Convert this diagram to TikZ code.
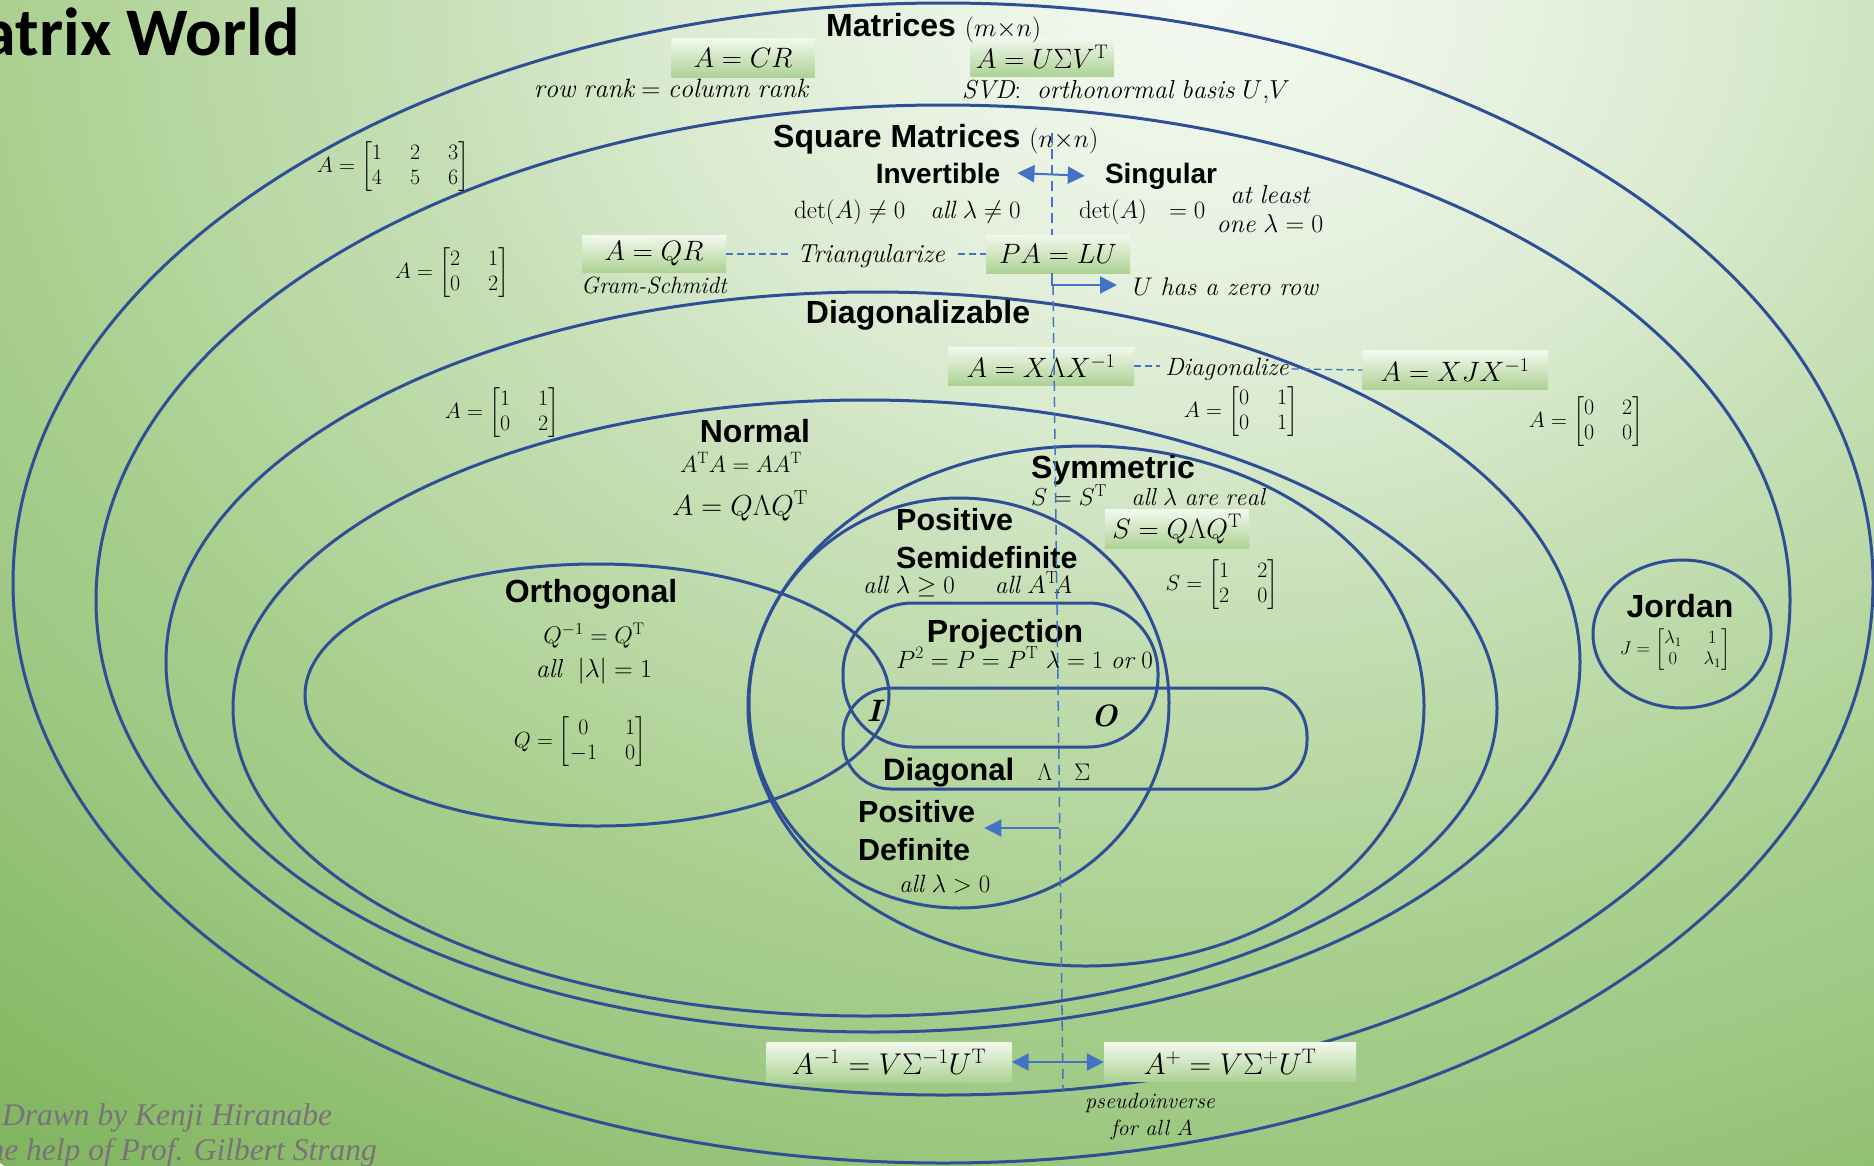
\RequirePackage{fix-cm}
\documentclass[tikz,border=0pt]{standalone}
\usepackage{amsmath}
\usepackage{fontspec}
\newfontfamily\hfont{Liberation Sans}
\newfontfamily\tfont{Carlito}
\newfontfamily\ffont{Liberation Serif}
\usetikzlibrary{arrows.meta}
\newcommand{\fsz}[1]{\fontsize{#1}{#1}\selectfont}
\newcommand{\mT}{^{\mathrm{T}}}
\newcommand{\mtx}[2]{{\setlength{\arraycolsep}{#1}$#2$}}
\definecolor{ellc}{HTML}{2E4F96}
\definecolor{arrb}{HTML}{4472C4}
\definecolor{boxtop}{HTML}{F2F8EE}
\definecolor{boxmid}{HTML}{D5E9C8}
\definecolor{boxbot}{HTML}{ADD294}
\definecolor{footc}{HTML}{7A717A}
\definecolor{bga}{HTML}{F4F9F1}
\definecolor{bgb}{HTML}{E8F2E1}
\definecolor{bgc}{HTML}{DAEBD0}
\definecolor{bgd}{HTML}{C8E0B8}
\definecolor{bge}{HTML}{B9D8A4}
\definecolor{bgf}{HTML}{A9CF8E}
\definecolor{bgg}{HTML}{9DC882}
\definecolor{bgi}{HTML}{8DBE6E}
\definecolor{bgh}{HTML}{80B45E}
\pgfdeclareradialshading{bgshade}{\pgfpoint{0bp}{0bp}}{color(0bp)=(bga); color(4bp)=(bgb); color(7bp)=(bgc); color(10bp)=(bgd); color(13bp)=(bge); color(16bp)=(bgf); color(19bp)=(bgg); color(22bp)=(bgi); color(25bp)=(bgh); color(50bp)=(bgh)}
\begin{document}
\begin{tikzpicture}[x=1pt,y=-1pt,
  ellp/.style={draw=ellc,line width=3pt},
  hl/.style={inner sep=0pt,font=\hfont\bfseries\fsz{31}},
  mt/.style={inner sep=0pt,font=\fsz{25}},
  sm/.style={inner sep=0pt,font=\fsz{24}},
  mx/.style={inner sep=0pt,font=\fontsize{22}{25}\selectfont},
  fbox/.style={top color=boxtop,middle color=boxmid,bottom color=boxbot,inner sep=0pt,font=\fsz{28}},
  dsh/.style={draw=arrb,line width=1.3pt,dash pattern=on 7pt off 4pt},
  vdsh/.style={draw=arrb,line width=1.5pt,dash pattern=on 10pt off 6pt},
  arr/.style={draw=arrb,line width=2pt,-{Triangle[length=17pt,width=17pt]}},
  darr/.style={draw=arrb,line width=2pt,{Triangle[length=17pt,width=17pt]}-{Triangle[length=17pt,width=17pt]}}
]
\useasboundingbox (0,0) rectangle (1874,1165);
\clip (0,0) rectangle (1874,1165);
\shade[shading=bgshade] (1200,0) ellipse [x radius=1900pt, y radius=1500pt];

% ellipses
\draw[ellp] (943,583) ellipse [x radius=930pt, y radius=580pt];
\draw[ellp] (943,600) ellipse [x radius=847pt, y radius=495pt];
\draw[ellp] (873,662) ellipse [x radius=707pt, y radius=370pt];
\draw[ellp] (865,708) ellipse [x radius=632pt, y radius=308pt];
\draw[ellp] (597,695) ellipse [x radius=292pt, y radius=131pt];
\draw[ellp] (1086,706) ellipse [x radius=338pt, y radius=260pt];
\draw[ellp] (959,703) ellipse [x radius=210pt, y radius=205pt];
\draw[ellp] (1682,634) ellipse [x radius=89pt, y radius=74pt];
\draw[ellp, rounded corners=70pt] (843,603) rectangle (1158,747);
\draw[ellp, rounded corners=48pt] (843,688) rectangle (1307,789);

% title and footer
\node[anchor=base east,inner sep=0pt,font=\tfont\bfseries\fsz{68}] (title) at (300,55) {Matrix World};
\node[anchor=base west,inner sep=0pt,text=footc,font=\ffont\itshape\fsz{31.5}] (foot1) at (2,1125) {Drawn by Kenji Hiranabe};
\node[anchor=base east,inner sep=0pt,text=footc,font=\ffont\itshape\fsz{31.5}] (foot2) at (377,1160) {with the help of Prof. Gilbert Strang};

% boxes
\node[fbox,minimum width=143pt,minimum height=39pt] (cr) at (743,58) {$A=CR$};
\node[fbox,minimum width=143pt,minimum height=39pt] (usv) at (1042,57) {$A=U\Sigma V\mT$};
\node[fbox,minimum width=144pt,minimum height=37pt] (qr) at (654,254) {$A=QR$};
\node[fbox,minimum width=144pt,minimum height=38pt] (lu) at (1058,254) {$PA=LU$};
\node[fbox,minimum width=186pt,minimum height=38pt] (xl) at (1041,366) {$A=X\Lambda X^{-1}$};
\node[fbox,minimum width=185pt,minimum height=39pt] (xj) at (1455,370) {$A=XJX^{-1}$};
\node[fbox,minimum width=144pt,minimum height=39pt] (sql) at (1177,529) {$S=Q\Lambda Q\mT$};
\node[fbox,minimum width=245pt,minimum height=40pt,font=\fsz{30}] (ainv) at (889,1062) {$A^{-1}=V\Sigma^{-1}U\mT$};
\node[fbox,minimum width=252pt,minimum height=39pt,font=\fsz{30}] (aplus) at (1230,1062) {$A^{+}=V\Sigma^{+}U\mT$};

% Matrices
\node[hl,font=\hfont\bfseries\fsz{32},anchor=base west] (mat) at (826,36) {Matrices {\fsz{26}$(m{\times}n)$}};
\node[mt,font=\fsz{26.5},anchor=base] (rr) at (671,97) {$\mathit{row\ rank}=\mathit{column\ rank}$};
\node[mt,font=\fsz{26},anchor=base] (svd) at (1126,98) {$\mathit{SVD}$:\ \ $\mathit{orthonormal\ basis}\ U{,}V$};
\node[mx] (m1) at (393,167) {\mtx{14pt}{A=\begin{bmatrix}1&2&3\\4&5&6\end{bmatrix}}};

% Square
\node[hl,font=\hfont\bfseries\fsz{32},anchor=base west] (sqm) at (773,147) {Square Matrices {\fsz{26}$(n{\times}n)$}};
\node[hl,font=\hfont\bfseries\fsz{28},anchor=base] (inv) at (938,183) {Invertible};
\node[hl,font=\hfont\bfseries\fsz{28},anchor=base] (sing) at (1161,183) {Singular};
\node[mt,anchor=base west] (detn) at (794,218) {$\det(A)\neq 0\quad \mathit{all}\ \lambda\neq 0$};
\node[mt,anchor=base west] (detz) at (1079,218) {$\det(A)\ \ =0$};
\node[sm,font=\fsz{26},anchor=base] (atl) at (1270,203) {$\mathit{at\ least}$};
\node[sm,font=\fsz{26},anchor=base] (one) at (1270,232) {$\mathit{one}\ \lambda=0$};
\node[mx] (m2) at (452,273) {\mtx{14pt}{A=\begin{bmatrix}2&1\\0&2\end{bmatrix}}};
\node[sm,font=\fsz{23.5},anchor=base] (gs) at (654,293) {\itshape Gram-Schmidt};
\node[mt,font=\fsz{26},anchor=base] (tri) at (871,262) {\itshape Triangularize};
\node[mt,font=\fsz{25.5},anchor=base west] (uz) at (1133,295) {$U$ \itshape has a zero row};

% Diagonalizable
\node[hl,font=\hfont\bfseries\fsz{32},anchor=base] (dgz) at (918,323) {Diagonalizable};
\node[sm,font=\fsz{25},anchor=base] (dz) at (1227,375) {\itshape Diagonalize};
\node[mx] (m3) at (502,413) {\mtx{14pt}{A=\begin{bmatrix}1&1\\0&2\end{bmatrix}}};
\node[mx] (m4) at (1241,412) {\mtx{14pt}{A=\begin{bmatrix}0&1\\0&1\end{bmatrix}}};
\node[mx] (m5) at (1586,422) {\mtx{14pt}{A=\begin{bmatrix}0&2\\0&0\end{bmatrix}}};

% Normal
\node[hl,font=\hfont\bfseries\fsz{32},anchor=base] (nrm) at (755,442) {Normal};
\node[sm,font=\fsz{23.5},anchor=base] (ata) at (741,472) {$A\mT A=AA\mT$};
\node[inner sep=0pt,font=\fsz{29},anchor=base] (nq) at (740,515) {$A=Q\Lambda Q\mT$};

% Orthogonal
\node[hl,font=\hfont\bfseries\fsz{32},anchor=base] (orth) at (591,602) {Orthogonal};
\node[sm,anchor=base] (qinv) at (594,643) {$Q^{-1}=Q\mT$};
\node[sm,font=\fsz{26},anchor=base] (alll) at (594,677) {$\mathit{all}\ \ |\lambda|=1$};
\node[mx] (mq) at (580,742) {\mtx{14pt}{Q=\begin{bmatrix}0&1\\-1&0\end{bmatrix}}};

% Symmetric
\node[hl,font=\hfont\bfseries\fsz{32},anchor=base] (sym) at (1113,478) {Symmetric};
\node[sm,font=\fsz{24.5},anchor=base west] (sst) at (1031,505) {$S=S\mT\quad \mathit{all}\ \lambda\ \mathit{are\ real}$};
\node[mx] (ms) at (1222,585) {\mtx{14pt}{S=\begin{bmatrix}1&2\\2&0\end{bmatrix}}};

% PSD
\node[hl,font=\hfont\bfseries\fsz{30.5},anchor=base west] (psd1) at (896,530) {Positive};
\node[hl,font=\hfont\bfseries\fsz{30.5},anchor=base west] (psd2) at (896,568) {Semidefinite};
\node[sm,font=\fsz{25},anchor=base west] (psdc) at (863,593) {$\mathit{all}\ \lambda\geq 0\quad\ \ \mathit{all}\ A\mT\! A$};

% Projection
\node[hl,font=\hfont\bfseries\fsz{32},anchor=base] (proj) at (1005,642) {Projection};
\node[sm,font=\fsz{25},anchor=base west] (projc) at (896,668) {$P^2=P=P\mT\ \lambda=1\ \mathit{or}\ 0$};
\node[inner sep=0pt,font=\fsz{31}\bfseries\itshape,anchor=base] (eye) at (874,721) {I};
\node[inner sep=0pt,font=\fsz{31}\bfseries\itshape,anchor=base] (zer) at (1104,726) {O};

% Diagonal
\node[hl,anchor=base west] (dg) at (883,780) {Diagonal};
\node[inner sep=0pt,font=\fsz{24},anchor=base west] (dls) at (1037,780) {$\Lambda\ \ \ \Sigma$};

% PD
\node[hl,font=\hfont\bfseries\fsz{30.5},anchor=base west] (pd1) at (858,822) {Positive};
\node[hl,font=\hfont\bfseries\fsz{30.5},anchor=base west] (pd2) at (858,860) {Definite};
\node[sm,font=\fsz{25},anchor=base west] (pdc) at (899,892) {$\mathit{all}\ \lambda>0$};

% Jordan
\node[hl,font=\hfont\bfseries\fsz{32},anchor=base] (jor) at (1680,617) {Jordan};
\node[inner sep=0pt,font=\fontsize{18.5}{21}\selectfont] (mj) at (1675,650) {\mtx{11pt}{J=\begin{bmatrix}\lambda_1&1\\0&\lambda_1\end{bmatrix}}};

% pseudoinverse
\node[inner sep=0pt,font=\fsz{22},anchor=base] (psi) at (1150,1108) {\itshape pseudoinverse};
\node[inner sep=0pt,font=\fsz{22},anchor=base] (fa) at (1152,1135) {\itshape for all $A$};

% connectors
\draw[dsh] (qr.east) -- ([xshift=-9pt]tri.west |- qr.east);
\draw[dsh] ([xshift=13pt]tri.east |- lu.west) -- (lu.west);
\draw[dsh] (xl.east) -- ([xshift=-5pt]dz.west |- xl.east);
\draw[dsh] ([xshift=3pt]dz.east) -- (xj.west);

\coordinate (v0) at (1052,133);
\coordinate (vj) at (1053,285);
\coordinate (uzt) at (1117,285);
\coordinate (v9) at (1063,1090);
\coordinate (pdj) at (1059,828);
\draw[vdsh] (v0) -- (v0 |- lu.north);
\draw[vdsh] (vj) -- (v9);
\draw[arr] (v0 |- lu.south) |- (uzt);
\draw[darr] ([xshift=17pt]inv.east) -- ([xshift=-20pt]sing.west);
\draw[arr] (pdj) -- ([xshift=9pt]pd1.east |- pdj);
\draw[darr] (ainv.east) -- (aplus.west);
\end{tikzpicture}
\end{document}
